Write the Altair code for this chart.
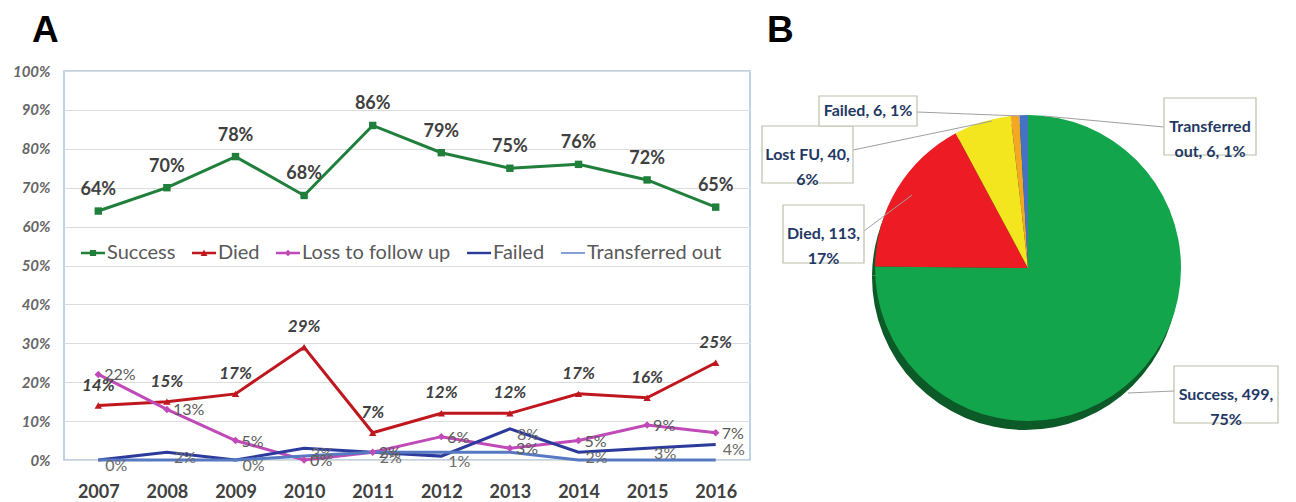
import altair as alt
import pandas as pd

# ---------------- data ----------------
years = ["2007", "2008", "2009", "2010", "2011", "2012", "2013", "2014", "2015", "2016"]
series_names = ["Success", "Died", "Loss to follow up", "Failed", "Transferred out"]
success = [64, 70, 78, 68, 86, 79, 75, 76, 72, 65]
died = [14, 15, 17, 29, 7, 12, 12, 17, 16, 25]
lost = [22, 13, 5, 0, 2, 6, 3, 5, 9, 7]
failed = [0, 2, 0, 3, 2, 1, 8, 2, 3, 4]
transferred = [0, 0, 0, 1, 2, 2, 2, 0, 0, 0]

pie_categories = ["Success", "Died", "Lost FU", "Failed", "Transferred out"]
pie_counts = [499, 113, 40, 6, 6]
pie_pcts = [75, 17, 6, 1, 1]

# ---------------- styles ----------------
line_colors = ["#1f7f3b", "#c0171f", "#c04ab8", "#2b3a9b", "#5679c2"]
line_widths = [3, 3, 2.5, 3, 2]
marker_shapes = ["square", "triangle-up", "diamond", "stroke", "stroke"]
pie_colors = ["#13a54b", "#ed1c24", "#f3e51e", "#f5a623", "#4472c4"]

# legend symbols: a short line with the series marker (unit box -1..1)
LINE_THICK = "M-1,-0.1L1,-0.1L1,0.1L-1,0.1Z"
LINE_THIN = "M-1,-0.06L1,-0.06L1,0.06L-1,0.06Z"
legend_paths = [
    LINE_THICK + " M-0.26,-0.26L0.26,-0.26L0.26,0.26L-0.26,0.26Z",
    LINE_THICK + " M-0.28,0.24L0,-0.3L0.28,0.24Z",
    LINE_THICK + " M0,-0.28L0.28,0L0,0.28L-0.28,0Z",
    LINE_THICK,
    LINE_THIN,
]

series_values = [success, died, lost, failed, transferred]
rows = []
for name, vals in zip(series_names, series_values):
    for yr, v in zip(years, vals):
        rows.append({"year": yr, "series": name, "value": v / 100, "label": f"{v}%"})
df = pd.DataFrame(rows)

cscale = alt.Scale(domain=series_names, range=line_colors)

shape_expr = ""
for name, p in zip(series_names[:-1], legend_paths[:-1]):
    shape_expr += f"datum.value === '{name}' ? '{p}' : "
shape_expr += f"'{legend_paths[-1]}'"

base = alt.Chart(df).encode(
    x=alt.X("year:O", scale=alt.Scale(type="point", padding=0.5),
            axis=alt.Axis(title=None, labelAngle=0, ticks=False, domain=False, grid=False,
                          labelFont="Lato", labelFontSize=18, labelFontWeight="bold",
                          labelColor="#404040", labelPadding=23)),
    y=alt.Y("value:Q", scale=alt.Scale(domain=[0, 1], nice=False),
            axis=alt.Axis(title=None, values=[i / 10 for i in range(11)], format=".0%",
                          grid=True, gridColor="#dcdcdc", domain=False, ticks=False,
                          labelFont="Lato", labelFontSize=15, labelFontStyle="italic",
                          labelFontWeight="bold", labelColor="#666666", labelPadding=14)),
)

legend = alt.Legend(title=None, orient="none", legendX=17, legendY=170, direction="horizontal",
                    labelFont="Lato", labelFontSize=20, labelColor="#595959",
                    symbolSize=576, columnPadding=16, labelOffset=2,
                    symbolType={"expr": shape_expr}, symbolStrokeWidth=0)

lines = base.mark_line().encode(
    color=alt.Color("series:N", scale=cscale, legend=legend),
    strokeWidth=alt.StrokeWidth("series:N", scale=alt.Scale(domain=series_names, range=line_widths), legend=None),
)
points = base.mark_point(filled=True, opacity=1).encode(
    color=alt.Color("series:N", scale=cscale, legend=legend),
    shape=alt.Shape("series:N", scale=alt.Scale(domain=series_names, range=marker_shapes), legend=None),
    size=alt.value(55),
)

succ_text = base.transform_filter(alt.datum.series == "Success").mark_text(
    dy=-21, font="Lato", fontSize=18, fontWeight="bold", color="#404040").encode(text="label:N")
died_text = base.transform_filter(alt.datum.series == "Died").mark_text(
    dy=-20, font="Lato", fontSize=17, fontWeight="bold", fontStyle="italic", color="#404040").encode(text="label:N")
lost_text = base.transform_filter(alt.datum.series == "Loss to follow up").mark_text(
    align="left", dx=6, dy=1, font="Lato", fontSize=16, color="#595959").encode(text="label:N")
failed_text = base.transform_filter(alt.datum.series == "Failed").mark_text(
    align="left", dx=7, dy=6, font="Lato", fontSize=16, color="#6a6a6a").encode(text="label:N")

left = alt.layer(lines, points, succ_text, died_text, lost_text, failed_text).properties(
    width=686, height=389,
    view=alt.ViewBackground(stroke="#a9c5e0", strokeWidth=1.5),
    title=alt.TitleParams("A", anchor="start", frame="group", dx=-32, font="Liberation Sans",
                          fontSize=37, fontWeight="bold", color="#000000", offset=14),
)

# ---------------- pie ----------------
pie_df = pd.DataFrame({"category": pie_categories, "count": pie_counts, "pct": pie_pcts,
                       "order": list(range(len(pie_categories)))})

CX, CY, R = 266, 197, 153
shadow = alt.Chart(pie_df).mark_arc(radius=R, color="#0b5a27").encode(
    theta=alt.Theta("count:Q", stack=True), order=alt.Order("order:Q"),
    x=alt.value(CX - 3), y=alt.value(CY + 9))
arcs = alt.Chart(pie_df).mark_arc(radius=R).encode(
    theta=alt.Theta("count:Q", stack=True), order=alt.Order("order:Q"),
    color=alt.Color("category:N", scale=alt.Scale(domain=pie_categories, range=pie_colors), legend=None),
    x=alt.value(CX), y=alt.value(CY))

# label layout (pixel positions in the pie panel): box x0,x1,y0,y1 ; words on first line ; leader from -> to
layout = {
    "Success": dict(box=(412, 516, 295, 352), k=2, lead=(412, 320, 366, 322)),
    "Died": dict(box=(21, 102, 134, 192), k=2, lead=(102, 160, 150, 124)),
    "Lost FU": dict(box=(0, 91, 55, 112), k=3, lead=(91, 79, 230, 50)),
    "Failed": dict(box=(57, 155, 25, 55), k=None, lead=(155, 41, 258, 45)),
    "Transferred out": dict(box=(402, 494, 27, 84), k=1, lead=(402, 56, 282, 45)),
}
lab_rows = []
for cat, cnt, pct in zip(pie_categories, pie_counts, pie_pcts):
    L = layout[cat]
    words = f"{cat}, {cnt}, {pct}%".split(" ")
    txt = " ".join(words) if L["k"] is None else " ".join(words[:L["k"]]) + "\n" + " ".join(words[L["k"]:])
    x0, x1, y0, y1 = L["box"]
    lx, ly, lx2, ly2 = L["lead"]
    lab_rows.append({"category": cat, "text": txt, "x0": x0, "x1": x1, "y0": y0, "y1": y1,
                     "tx": (x0 + x1) / 2, "ty": (y0 + y1) / 2,
                     "lx": lx, "ly": ly, "lx2": lx2, "ly2": ly2})
lab_df = pd.DataFrame(lab_rows)

leaders = alt.Chart(lab_df).mark_rule(color="#a0a0a0", strokeWidth=1).encode(
    x=alt.X("lx:Q", scale=None), y=alt.Y("ly:Q", scale=None),
    x2="lx2:Q", y2="ly2:Q")
boxes = alt.Chart(lab_df).mark_rect(fill="#ffffff", stroke="#b9c1aa", strokeWidth=1.2).encode(
    x=alt.X("x0:Q", scale=None), x2="x1:Q", y=alt.Y("y0:Q", scale=None), y2="y1:Q")
texts = alt.Chart(lab_df).mark_text(font="Lato", fontSize=16, fontWeight="bold", color="#1f3864",
                                    lineBreak="\n", lineHeight=25, baseline="middle").encode(
    x=alt.X("tx:Q", scale=None), y=alt.Y("ty:Q", scale=None), text="text:N")

right = alt.layer(shadow, arcs, leaders, boxes, texts).properties(
    width=520, height=389,
    view=alt.ViewBackground(stroke="transparent"),
    title=alt.TitleParams("B", anchor="start", frame="group", dx=5, font="Liberation Sans",
                          fontSize=37, fontWeight="bold", color="#000000", offset=21),
)

chart = alt.hconcat(left, right, spacing=9).properties(
    padding={"left": 3, "top": 3, "right": 0, "bottom": 5}
).resolve_scale(color="independent")

chart.save("out.html", embed_options={"renderer": "svg", "actions": False})
